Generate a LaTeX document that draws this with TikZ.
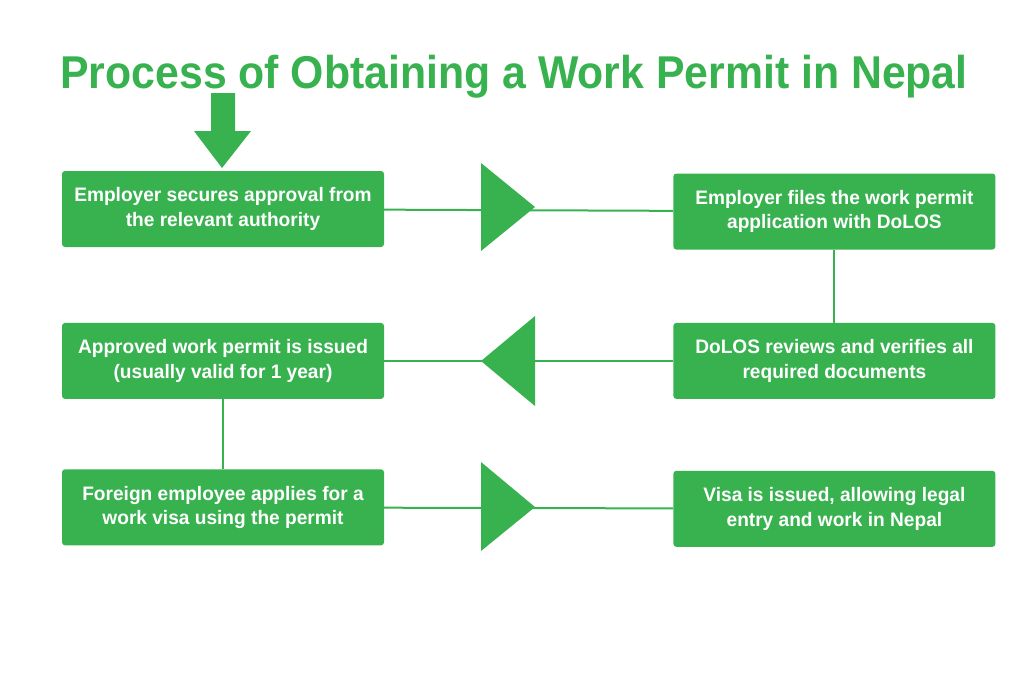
\documentclass[tikz,border=0pt]{standalone}
\usepackage{fontspec}
\setmainfont[FakeStretch=0.98]{Liberation Sans}
\newfontfamily\titlefont[FakeStretch=0.93]{Liberation Sans}
\usetikzlibrary{positioning}
\definecolor{permitgreen}{RGB}{55,178,79}

\begin{document}
\begin{tikzpicture}[x=1pt,y=-1pt,
box/.style={fill=permitgreen,rounded corners=3pt,align=center,text=white,font=\bfseries\fontsize{19.5}{24.3}\selectfont,minimum width=322pt,minimum height=76pt,inner sep=0pt},
link/.style={draw=permitgreen,line width=2pt},
flag/.style={fill=permitgreen},
node distance=73pt and 289pt]
\useasboundingbox (0,0) rectangle (1024,683);
\node[text=permitgreen,font=\titlefont\bfseries\fontsize{46}{50}\selectfont,anchor=base] (title) at (514,88) {Process of Obtaining a Work Permit in Nepal};
\node[box] (secure) at (223,209) {Employer secures approval from\\the relevant authority};
\node[box,right=of secure,yshift=-2.5pt] (file) {Employer files the work permit\\application with DoLOS};
\node[box,below=of file] (review) {DoLOS reviews and verifies all\\required documents};
\node[box,left=of review] (issued) {Approved work permit is issued\\(usually valid for 1 year)};
\node[box,below=70pt of issued] (apply) {Foreign employee applies for a\\work visa using the permit};
\node[box,right=of apply,yshift=-1.5pt] (visa) {Visa is issued, allowing legal\\entry and work in Nepal};
\draw[link] (secure) -- (file);
\draw[link] (file) -- (review);
\draw[link] (review) -- (issued);
\draw[link] (issued) -- (apply);
\draw[link] (apply) -- (visa);
% arrow into the first step
\fill[flag] (211,93) -- (235,93) -- (235,131) -- (251,131) -- (222,168) -- (194,131) -- (211,131) -- cycle;
% direction markers
\fill[flag] (481,163) -- (535,207) -- (481,251) -- cycle;
\fill[flag] (535,316) -- (481,361) -- (535,406) -- cycle;
\fill[flag] (481,462) -- (535,507) -- (481,551) -- cycle;
\end{tikzpicture}
\end{document}
